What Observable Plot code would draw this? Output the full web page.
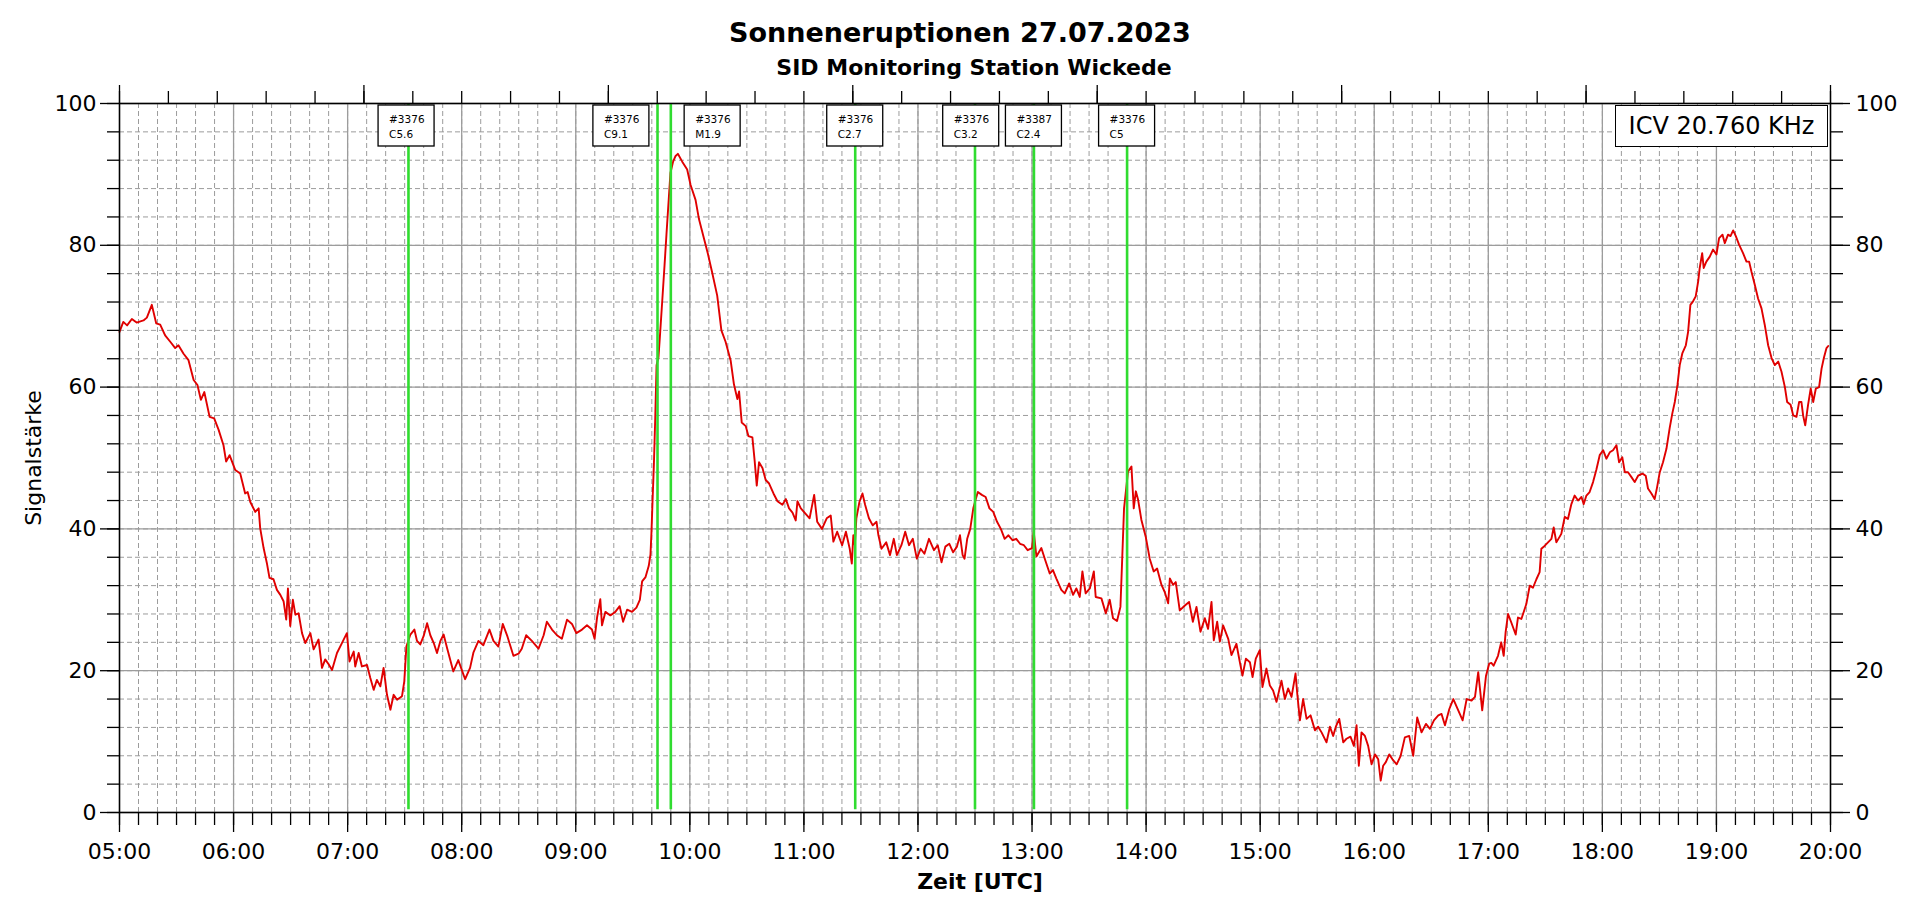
<!DOCTYPE html>
<html><head><meta charset="utf-8">
<script src="https://cdn.jsdelivr.net/npm/d3@7"></script>
<script src="https://cdn.jsdelivr.net/npm/@observablehq/plot@0.6"></script>
<style>
html,body{margin:0;padding:0;background:#fff;}
#wrap{position:relative;width:1920px;height:904px;overflow:hidden;font-family:"DejaVu Sans",sans-serif;color:#000;}
#wrap svg{position:absolute;left:0;top:0;}
.t{position:absolute;white-space:nowrap;line-height:1;}
#title{left:0;width:1920px;text-align:center;top:19px;font-size:27px;font-weight:bold;}
#subtitle{left:974px;transform:translateX(-50%);top:57px;font-size:22px;font-weight:bold;}
#xlabel{left:980px;transform:translateX(-50%);top:871px;font-size:22px;font-weight:bold;}
#ylabel{left:34px;top:458px;transform:translate(-50%,-50%) rotate(-90deg);font-size:22px;}
#station{left:1615px;top:105px;width:213px;height:42px;box-sizing:border-box;border:1.5px solid #000;background:#fff;font-size:24px;display:flex;align-items:center;justify-content:center;}
</style></head><body>
<div id="wrap">
  <div class="t" id="title"></div>
  <div class="t" id="subtitle"></div>
  <div class="t" id="xlabel"></div>
  <div class="t" id="ylabel"></div>
  <div class="t" id="station"></div>
</div>
<script>
// ---- texts ----
const titleText = "Sonneneruptionen 27.07.2023";
const subtitleText = "SID Monitoring Station Wickede";
const xLabelText = "Zeit [UTC]";
const yLabelText = "Signalstärke";
const stationText = "ICV 20.760 KHz";

// ---- axis ----
const dayStart = "2023-07-27 05:00";
const dayEnd = "2023-07-27 20:00";
const yTicks = [0, 20, 40, 60, 80, 100];

// ---- flares ----
const flareTimes   = ["07:32", "09:43", "09:50", "11:27", "12:30", "13:01", "13:50"];
const flareRegions = ["#3376", "#3376", "#3376", "#3376", "#3376", "#3387", "#3376"];
const flareClasses = ["C5.6", "C9.1", "M1.9", "C2.7", "C3.2", "C2.4", "C5"];
const labelTimes   = ["07:31", "09:24", "10:12", "11:27", "12:28", "13:01", "13:50"];

// ---- signal: [minutes after 05:00 UTC, signal strength] ----
const signal0508 = [
[0,67.8],[2,69.2],[4,68.7],[6.5,69.6],[9,69.1],[12.6,69.4],[14.4,69.8],[17,71.6],[19.3,69],[21.4,68.8],
[24,67.3],[26.7,66.4],[29.3,65.5],[31,65.9],[33.7,64.7],[36.3,63.8],[39,61],[41,60.3],[42.8,58.2],[44.6,59.3],
[47.4,55.8],[49.8,55.6],[52.1,54],[54.7,51.8],[56.1,49.5],[57.9,50.4],[60.9,48.3],[63.5,47.8],[66.1,45],[67.4,45.2],
[68.8,43.8],[71.4,42.4],[73.2,42.9],[74,40.1],[75.8,37.3],[77.5,35.2],[78.9,33.1],[81,32.9],[82.8,31.4],[84.6,30.7],
[86.3,29.8],[87.7,27.2],[88.6,31.6],[89.8,26.3],[91.2,30],[92.5,27.9],[94.2,28.1],[96,25.3],[97.7,23.9],[100.4,25.3],
[102.1,23],[104.7,24.4],[106.5,20.4],[108.2,21.6],[110,20.9],[111.8,20.1],[114.4,22.5],[117,23.9],[119.6,25.3],[121,21.3],
[123.2,22.7],[124,20.6],[125.8,22.5],[127.5,20.6],[130.2,20.8],[131.9,19],[133.7,17.3],[135.4,18.7],[137.2,17.8],[138.9,20.4],
[140.7,16.6],[142.5,14.5],[144.2,16.6],[146,15.9],[148.6,16.4],[149.8,18.5],[150.9,23.4],[153,25.1],[155.1,25.8],[156.5,24.2],
[158.2,23.7],[160,24.9],[161.8,26.7],[163.5,25],[165.3,23.9],[167,22.5],[168.8,24.2],[170.5,25.1],[172.3,23.2],[175.6,19.9],
[178.2,21.5]
];
const signal0811 = [
[181.8,18.8],[184.4,20.4],[186.2,22.6],[188.8,24.2],[191.4,23.6],[194.6,25.8],[196.7,24.2],[199.3,23.4],[201.6,26.6],[204.1,24.8],
[207.2,22.1],[209.9,22.4],[211.6,23.1],[213.9,25],[216.9,24.2],[220.4,23.1],[223.1,25],[224.8,26.9],[227.5,25.8],[230.1,25],
[232.7,24.5],[235.4,27.2],[238,26.6],[240.3,25.3],[243.3,25.8],[245.9,26.4],[248.5,25.8],[249.9,24.5],[251.2,27.5],[252.9,30.1],
[253.8,26.4],[255.6,28.3],[258.2,27.8],[260.8,28.3],[263.1,29.1],[264.9,26.9],[267,28.6],[269.6,28.3],[271.9,28.9],[273.7,30],
[274.9,32.6],[276.7,33.2],[278.4,34.8],[279.3,36.4],[279.8,39.4],[280.5,44.8],[281.1,49.1],[281.8,55.6],[282.5,63.1],[283.5,64.2],
[284.2,66.9],[285.4,71.8],[286.7,77.2],[287.7,81.5],[289,86.9],[289.8,90.2],[291.2,91.8],[292.5,92.6],[293.7,92.9],[296,91.8],
[298.6,90.7],[300.4,88.5],[303,86.4],[304.8,83.7],[307.4,81],[309.5,78.8],[311.8,76.1],[314.4,72.9],[316.6,68],[318.8,66.4],
[321.5,63.7],[323.2,60.4],[325,58.3],[325.9,59.4],[327.3,55],[329.4,54.5],[330.8,53.1],[332.9,52.9],[334.1,49.6],[335.2,46.1],
[336.4,49.4],[338.2,48.6],[339.9,46.9],[341.7,46.4],[344,45],[346.1,43.9],[348.7,43.4],[350.5,44.2],[352.2,42.9],[354,42.3],
[355.7,41.2],[356.6,43.9],[358.4,42.9]
];
const signal1113 = [
[360,42.4],[363,41.5],[365.4,44.8],[367,41],[369.5,40],[372,41.5],[374.1,41.9],[375.5,38.2],[377.5,39.6],[380.1,37.7],
[382.1,39.6],[384.1,37.2],[385.2,35.1],[386,39.1],[386.8,37.7],[387.6,41.5],[389.2,43.8],[390.8,45],[392.2,43.4],[394.2,41.5],
[396.2,40.5],[398.2,41],[399.2,39.1],[400.8,37.2],[403.3,38.1],[405.3,36.3],[407.3,38.6],[408.9,36.3],[411.3,37.7],[413.3,39.6],
[415.3,37.7],[417.3,38.6],[419.4,35.8],[421.4,37.2],[423.4,36.5],[425.8,38.6],[428.4,37],[430.4,37.7],[432.4,35.3],[434.4,37.5],
[436.5,37.9],[438.5,36.7],[440.5,37.5],[442.1,39.1],[443.5,36.3],[444.5,35.8],[445.9,38.6],[447.5,40],[449.1,42.9],[450.5,44.3],
[451.5,45.2],[453.6,44.8],[455.6,44.5],[457.6,42.9],[459.6,42.4],[461.6,41],[463.6,40],[465.6,38.6],[467.6,39.1],[469.7,38.4],
[471.7,38.6],[473.7,37.9],[475.7,37.7],[477.7,37]
];
const signal1317 = [
[480,37.3],[480.9,39.6],[482.3,36.1],[484.9,37.3],[486.7,35.8],[489.3,33.7],[491,34.2],[492.8,33],[495.4,31.4],[497.2,30.9],
[499.5,32.3],[501.6,30.7],[503.3,31.6],[505.1,30.4],[506.5,34],[508.2,30.9],[510.4,31.6],[512.5,34],[513.5,30.4],[516.5,30.2],
[518.8,28.1],[520.9,30],[522.6,27.4],[524.7,27],[526.5,29],[527.5,36.3],[528.4,42.9],[530.5,48.1],[532.3,48.8],[533.5,42.9],
[534.6,45.3],[535.8,44.1],[537.5,41.3],[539.8,38.9],[541.9,35.8],[544,34],[545.8,34.4],[548.1,32.1],[549.8,31.1],[551.6,29.5],
[552.5,33],[554.2,32.1],[555.6,32.5],[557.7,28.5],[560.4,29.2],[562.6,29.7],[564.6,26.9],[566.5,29],[568.6,25.5],[570.9,27.4],
[572.6,25.9],[574.4,29.7],[575.6,24.3],[577.4,26.9],[578.8,24.1],[580.5,26.4],[583.2,24.5],[584.9,22.2],[587.5,23.8],[589.3,21.2],
[590.7,19.3],[592.5,21.7],[594.6,21.2],[596,19.1],[597.7,21.7],[599.8,22.9],[601.2,17.7],[603.3,20.3],[605.1,17.9],[606.8,17.2],
[608.6,15.6],[611.2,18.6],[613,16],[614.7,17.5],[616.5,16.3],[618.6,19.6],[619.6,16.5],[620.9,13],[622.6,16],[624.4,13.2],
[626.5,13.7],[628.8,11.6],[630.5,12.1],[632.3,11.3],[634.9,9.9],[636.7,12.1],[638.4,10.8],[639.8,12.1],[641.6,13.2],[643.7,9.9],
[645.4,10.4],[647.5,10.7],[649.3,9.4],[650.7,12.3],[651.9,6.6],[653.3,11.3],[655.1,10.8],[656.8,9.4],[658.6,6.8],[660.4,8.2],
[662.1,7.5],[663.4,4.5],[664.7,6.6],[666.1,7.1],[667.9,8.2],[669.6,7.5],[671.8,6.8],[673.9,8],[676.1,10.6],[678.4,10.8],
[680.5,8],[682.6,13.4],[684.9,11.3],[687.2,12.5],[689.3,11.8],[691.4,13],[693.7,13.7],[695.4,13.9],[697.2,12.3],[699.5,14.6],
[701.6,16],[704.2,14.4],[706.5,13],[708.6,16],[711.2,15.8],[713,16.3],[714.7,19.8],[716.8,14.4],[718.8,19.3],[720.5,21]
];
const signal1720 = [
[721.6,21.1],[722.8,20.7],[725.1,22.1],[726.8,24],[728.1,22.1],[729.1,25.4],[730.4,28],[732.1,26.8],[734.4,25.1],[735.6,27.5],
[737.4,27.3],[740,29.4],[741.8,32],[743.5,31.7],[745.3,32.9],[747,33.9],[747.9,37.2],[749.6,37.6],[751.4,38.1],[753.2,38.6],
[754.4,40.2],[755.8,38.1],[758.4,39.3],[760.2,41.7],[761.9,41.4],[763.7,43.5],[765.4,44.7],[767.2,44],[769,44.5],[770.2,43.5],
[771.6,44.7],[773.3,45.2],[775.1,46.6],[776.8,48.3],[778.6,50.4],[780.4,51.1],[782.1,49.9],[783.9,50.8],[785.6,51.1],[787.4,51.8],
[788.8,49.4],[790.5,50.1],[791.8,48],[793.5,48],[795.3,47.3],[797,46.6],[798.8,47.5],[801.1,47.8],[802.8,47.5],[804,45.7],
[805.8,45],[807.5,44.2],[808.8,45.9],[810.2,48],[811.9,49.4],[813.7,51.3],[815.4,54.2],[816.8,56.3],[818.1,57.9],[819.5,60.3],
[820.7,63.1],[822.1,64.8],[823.9,65.9],[825.1,67.8],[826.3,71.6],[827.7,72.1],[829.1,72.8],[830.4,74.9],[831.2,76.8],[832.5,78.9],
[833.3,76.8],[834.7,77.7],[836.5,78.4],[838.2,79.4],[840,78.7],[841.4,81],[843.2,81.5],[844.4,80.3],[846.1,81.5],[847.4,81.3],
[848.8,82.1],[850.2,81.3],[851.9,80.1],[854,78.9],[855.8,77.7],[857.2,77.7],[858.4,76.3],[860.2,74.4],[861.9,72.5],[863.7,71.1],
[865.4,68.8],[867.2,65.9],[869,64.1],[870.7,63.1],[872.5,63.6],[874.2,62.2],[876,60],[877.2,57.9],[879,57.5],[880.4,56],
[882.1,55.8],[883.5,57.9],[884.7,57.9],[885.6,56],[886.7,54.6],[888.2,57.5],[889.6,59.8],[890.9,57.9],[892.3,59.8],[894,60],
[895.3,62.6],[896.5,64.1],[897.9,65.5],[898.8,65.8]
];

// ---- build ----
const parseT = d3.utcParse("%Y-%m-%d %H:%M");
const t0 = parseT(dayStart), t1 = parseT(dayEnd);
const atMin = m => new Date(+t0 + m * 60000);
const atClock = s => parseT("2023-07-27 " + s);
const samples = [...signal0508, ...signal0811, ...signal1113, ...signal1317, ...signal1720]
  .map(([m, v]) => ({time: atMin(m), value: v}));
const flares = flareTimes.map((s, i) => ({
  time: atClock(s), label: atClock(labelTimes[i]), region: flareRegions[i], cls: flareClasses[i]
}));

const hourTicks = d3.utcHour.every(1).range(t0, new Date(+t1 + 1));
const tenMinTicks = d3.utcMinute.every(10).range(t0, new Date(+t1 + 1));
const yMinor = d3.range(0, 101, 4);
const yMajor = yTicks;
// top axis: 35 equal intervals, major every 5
const topSpan = (+t1 - +t0);
const topTicks = d3.range(0, 36).map(k => new Date(+t0 + topSpan * k / 35));
const topMajor = topTicks.filter((d, k) => k % 5 === 0);

const gridColor = "#9c9c9c";

function flareBoxes(index, scales, values, dimensions) {
  const sx = scales.x || (scales.scales && scales.scales.x);
  const g = d3.create("svg:g").attr("text-anchor", "start").attr("font-size", 10.5);
  const top = dimensions.marginTop + 2;
  flares.forEach(f => {
    const cx = sx(f.label);
    g.append("rect").attr("x", cx - 28).attr("y", top).attr("width", 56).attr("height", 41)
      .attr("fill", "white").attr("stroke", "black").attr("stroke-width", 1.3);
    g.append("text").attr("x", cx - 17).attr("y", top + 18).attr("fill", "black").text(f.region);
    g.append("text").attr("x", cx - 17).attr("y", top + 32.5).attr("fill", "black").text(f.cls);
  });
  return g.node();
}

const chart = Plot.plot({
  width: 1920, height: 904,
  marginLeft: 119, marginRight: 90, marginTop: 103, marginBottom: 92,
  style: {fontFamily: "DejaVu Sans", fontSize: "22px", background: "transparent", color: "black", overflow: "visible"},
  x: {type: "utc", domain: [t0, t1]},
  y: {domain: [0, 100]},
  marks: [
    Plot.ruleX(tenMinTicks, {stroke: gridColor, strokeWidth: 1, strokeDasharray: "5,3"}),
    Plot.ruleX(hourTicks, {stroke: gridColor, strokeWidth: 1.3}),
    Plot.ruleY(yMinor, {stroke: gridColor, strokeWidth: 1, strokeDasharray: "5,3"}),
    Plot.ruleY(yMajor, {stroke: gridColor, strokeWidth: 1.3}),
    Plot.line(samples, {x: "time", y: "value", stroke: "#e00000", strokeWidth: 1.9}),
    Plot.ruleX(flares, {x: "time", y1: 0.4, y2: 100, stroke: "#30dc30", strokeWidth: 2.6}),
    flareBoxes,
    Plot.frame({stroke: "black", strokeWidth: 1.5}),
    Plot.axisX({anchor: "bottom", ticks: tenMinTicks, tickSize: 13, strokeWidth: 1.3, fill: "none", label: null}),
    Plot.axisX({anchor: "bottom", ticks: hourTicks, tickSize: 20, tickPadding: 11, strokeWidth: 1.3,
      tickFormat: d3.utcFormat("%H:%M"), fontSize: 22, label: null}),
    Plot.axisX({anchor: "top", ticks: topTicks, tickSize: 13, strokeWidth: 1.3, fill: "none", label: null}),
    Plot.axisX({anchor: "top", ticks: topMajor, tickSize: 19, strokeWidth: 1.3, fill: "none", label: null}),
    Plot.axisY({anchor: "left", ticks: yMinor, tickSize: 12, strokeWidth: 1.3, fill: "none", label: null}),
    Plot.axisY({anchor: "left", ticks: yMajor, tickSize: 19, tickPadding: 4, strokeWidth: 1.3, fontSize: 22, label: null}),
    Plot.axisY({anchor: "right", ticks: yMinor, tickSize: 12, strokeWidth: 1.3, fill: "none", label: null}),
    Plot.axisY({anchor: "right", ticks: yMajor, tickSize: 19, tickPadding: 6, strokeWidth: 1.3, fontSize: 22, label: null})
  ]
});

const wrap = document.getElementById("wrap");
wrap.insertBefore(chart, wrap.firstChild);
document.getElementById("title").textContent = titleText;
document.getElementById("subtitle").textContent = subtitleText;
document.getElementById("xlabel").textContent = xLabelText;
document.getElementById("ylabel").textContent = yLabelText;
document.getElementById("station").textContent = stationText;
</script>
</body></html>
